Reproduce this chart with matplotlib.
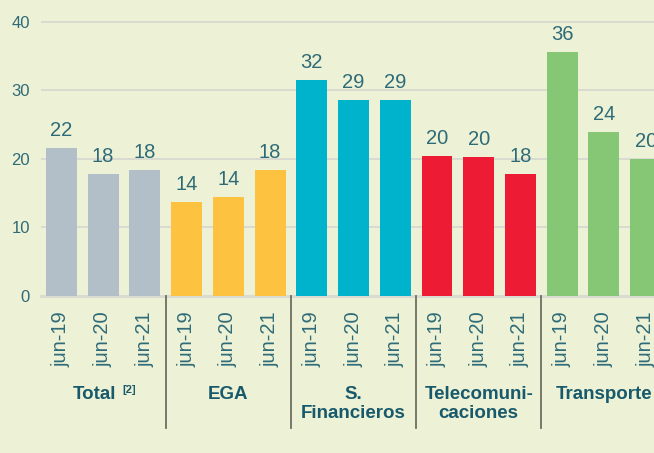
import matplotlib

matplotlib.use('Agg')

import matplotlib.pyplot as plt

plt.rcParams['font.family'] = ['Liberation Sans', 'DejaVu Sans']

groups = ['Total', 'EGA', 'S.\nFinancieros', 'Telecomuni-\ncaciones', 'Transporte']
periods = ['jun-19', 'jun-20', 'jun-21']
total = [21.6, 17.8, 18.4]
ega = [13.7, 14.4, 18.4]
financieros = [31.5, 28.6, 28.6]
telecom = [20.4, 20.3, 17.8]
transporte = [35.6, 23.9, 20.0]
colors = ['#b2bfc8', '#fdc240', '#00b3cc', '#ed1b34', '#86c775']

series = [total, ega, financieros, telecom, transporte]

bg = '#edf1d5'
teal = '#2e6b78'
dark = '#185a6c'

fig = plt.figure(figsize=(6.54, 4.53), dpi=100, facecolor=bg)
ax = fig.add_axes([41/654, (453-295.7)/453, (654-41)/654, 295.7/453])
ax.set_facecolor(bg)

xs = []
labels = []
for g, vals in enumerate(series):
    for k, v in enumerate(vals):
        x = g*3 + k
        xs.append(x)
        labels.append(periods[k])
        ax.bar(x, v, width=0.74, color=colors[g], zorder=3)
        ax.annotate('%d' % round(v), (x, v), xytext=(0, 6), textcoords='offset points',
                    ha='center', va='bottom', fontsize=14.5, color=teal, zorder=4)

ax.set_xlim(-0.49, 14.2)
ax.set_ylim(0, 43.23)
ax.set_yticks([0, 10, 20, 30, 40])
for y in [10, 20, 30, 40]:
    ax.axhline(y, color='#d6d7cf', lw=1.2, zorder=1)
ax.axhline(0, color='#d9dad0', lw=2.2, zorder=2, clip_on=False)

ax.set_xticks(xs)
ax.set_xticklabels(labels, rotation=90, fontsize=14.5, color=teal)
ax.tick_params(axis='x', length=0, pad=11)
ax.tick_params(axis='y', length=0, pad=8, labelsize=12, labelcolor=teal)
for s in ax.spines.values():
    s.set_visible(False)

tr = ax.get_xaxis_transform()
for g in range(1, 5):
    ax.plot([g*3 - 0.5, g*3 - 0.5], [0, -0.447], transform=tr, color='#6e6e62',
            lw=1.3, clip_on=False)

for g, name in enumerate(groups):
    if g == 0:
        ax.text(g*3 + 1 - 0.2, -0.305, name, transform=tr, ha='center', va='top',
                fontsize=13.5, fontweight='bold', color=dark)
        ax.text(g*3 + 1 + 0.62, -0.302, '[2]', transform=tr, ha='center', va='top',
                fontsize=8, fontweight='bold', color=dark)
    else:
        ax.text(g*3 + 1, -0.305, name, transform=tr, ha='center', va='top',
                fontsize=13.5, fontweight='bold', color=dark, linespacing=1.15)

fig.savefig('out.png', facecolor=bg)
